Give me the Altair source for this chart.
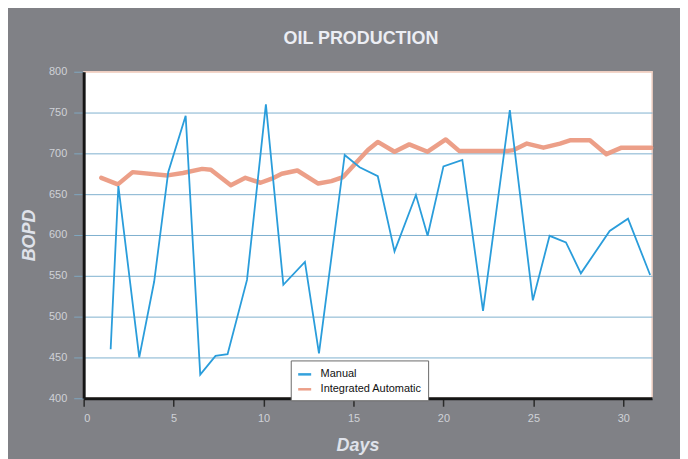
import altair as alt
import pandas as pd

# ---- data ----
series_names = ["Manual", "Integrated Automatic"]

days_manual = [1.5, 1.93, 3.09, 3.92, 4.7, 5.67, 6.48, 7.33, 8.0, 9.08, 10.13,
               11.1, 12.3, 13.08, 14.51, 15.34, 16.35, 17.28, 18.47, 19.12,
               20.0, 21.05, 22.2, 23.69, 24.97, 25.9, 26.81, 27.64, 29.24,
               30.26, 31.49]
vals_manual = [460, 660, 450, 543, 677, 746, 429, 452, 454, 545, 760,
               539, 567, 455, 698, 683, 672, 580, 649, 599,
               684, 692, 507, 753, 520, 599, 591, 553, 605,
               620, 551]

days_auto = [0.98, 1.9, 2.72, 4.66, 5.52, 6.59, 7.07, 8.18, 8.99, 9.83, 10.46,
             11.01, 11.88, 13.04, 13.77, 14.42, 15.08, 15.8, 16.35, 17.28,
             18.1, 19.12, 20.13, 20.87, 22.2, 23.6, 23.9, 24.64, 25.56,
             26.48, 27.03, 28.14, 29.06, 29.9, 31.55]
vals_auto = [670, 662, 677, 673, 676, 681, 680, 661, 670, 664, 669,
             675, 679, 663, 666, 671, 687, 704, 714, 702,
             711, 702, 717, 703, 703, 703, 704, 712, 707,
             712, 716, 716, 699, 707, 707]

x_ticks = [0, 5, 10, 15, 20, 25, 30]
y_ticks = [400, 450, 500, 550, 600, 650, 700, 750, 800]

df_manual = pd.DataFrame({"day": days_manual, "bopd": vals_manual,
                          "series": series_names[0]})
df_auto = pd.DataFrame({"day": days_auto, "bopd": vals_auto,
                        "series": series_names[1]})

FONT = "Liberation Sans, Arial, sans-serif"
BLUE = "#2a9ddb"
ORANGE = "#eb9a82"
LIGHT = "#cfd1d7"
BORDER = "#efcfc2"

x_enc = alt.X(
    "day:Q",
    scale=alt.Scale(domain=[0, 31.6], nice=False, zero=False),
    axis=alt.Axis(
        values=x_ticks, title="Days", grid=False,
        domainColor="#151515", domainWidth=3,
        tickColor="#2a2a2a", tickSize=8, tickWidth=1.5,
        labelFont=FONT, labelFontSize=11, labelColor=LIGHT, labelPadding=6,
        titleFont=FONT, titleFontSize=18, titleFontStyle="italic",
        titleFontWeight="bold", titleColor="#dfe2ea",
        titleX=275, titleY=47, titleAlign="center", titleBaseline="middle",
    ),
)
y_enc = alt.Y(
    "bopd:Q",
    scale=alt.Scale(domain=[400, 800], nice=False, zero=False),
    axis=alt.Axis(
        values=y_ticks, title="BOPD", grid=True,
        gridColor=alt.condition("datum.value == 800",
                                alt.value(BORDER), alt.value("#7fb0cf")),
        gridWidth=1,
        domainColor="#151515", domainWidth=3,
        tickColor="#7fa6bf", tickSize=10, tickWidth=1,
        labelFont=FONT, labelFontSize=11, labelColor=LIGHT, labelPadding=7,
        titleFont=FONT, titleFontSize=18, titleFontStyle="italic",
        titleFontWeight="bold", titleColor="#dfe2ea",
        titleX=-54, titleY=164, titleAngle=270,
        titleAlign="center", titleBaseline="middle",
    ),
)
color_enc = alt.Color(
    "series:N",
    scale=alt.Scale(domain=series_names, range=[BLUE, ORANGE]),
    legend=alt.Legend(
        title=None, orient="none", legendX=208, legendY=290,
        fillColor="white", strokeColor="#6a6a6a", padding=6,
        labelFont=FONT, labelFontSize=11, labelColor="#111111",
        symbolType="stroke", symbolSize=170, symbolStrokeWidth=2.5,
        rowPadding=2, labelOffset=8,
    ),
)

auto_layer = alt.Chart(df_auto).mark_line(
    strokeWidth=4.5, strokeJoin="round", strokeCap="round", opacity=0.95
).encode(x=x_enc, y=y_enc, color=color_enc)

manual_layer = alt.Chart(df_manual).mark_line(
    strokeWidth=1.8, strokeJoin="miter"
).encode(x=x_enc, y=y_enc, color=color_enc)

chart = alt.layer(auto_layer, manual_layer).properties(
    width=571,
    height=328,
    background="#808186",
    padding={"left": 76, "top": 63, "right": 28, "bottom": 60},
    autosize=alt.AutoSizeParams(type="none"),
    title=alt.Title(
        "OIL PRODUCTION", font=FONT, fontSize=18, fontWeight="bold",
        color="#eceef4", anchor="middle", dx=-7, offset=18,
    ),
).configure_view(
    fill="white", stroke=BORDER, strokeWidth=1.5
)

chart.save("out.html", embed_options={"renderer": "svg", "actions": False})
